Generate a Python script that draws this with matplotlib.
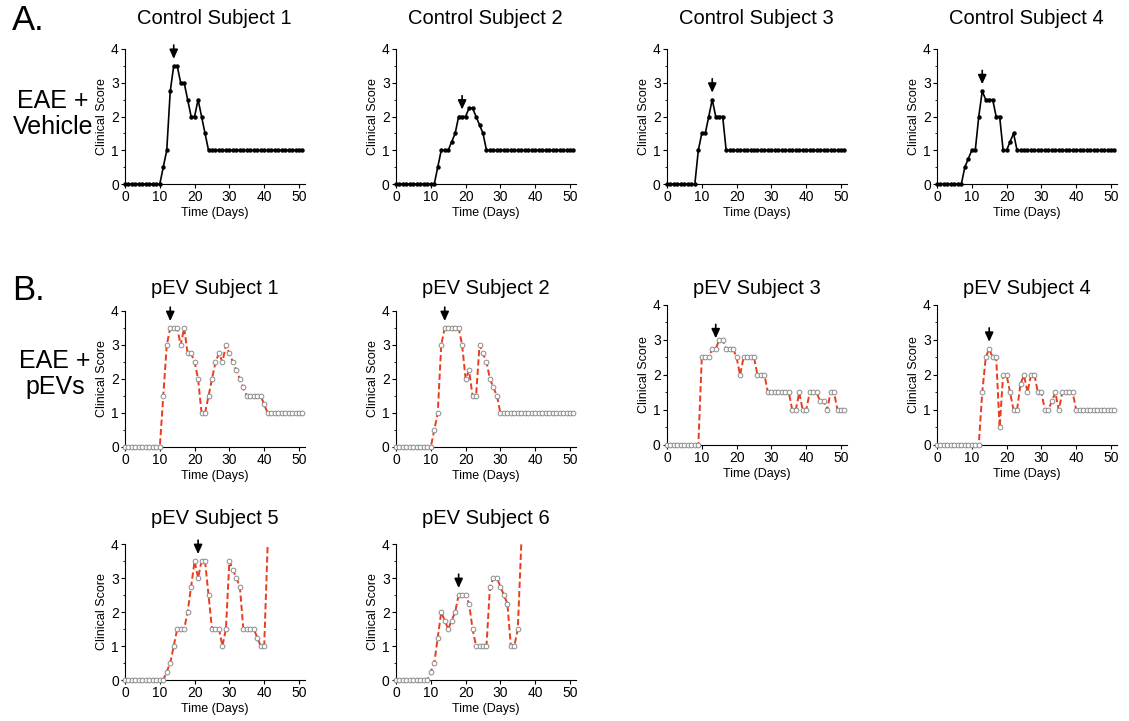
import matplotlib
matplotlib.use('Agg')
import matplotlib.pyplot as plt
from matplotlib.ticker import MultipleLocator

plt.rcParams['font.family'] = ['Liberation Sans', 'DejaVu Sans']

# Clinical scores, one value per day starting at day 0
control_1 = [0, 0, 0, 0, 0, 0, 0, 0, 0, 0, 0, 0.5, 1, 2.75, 3.5, 3.5, 3, 3, 2.5, 2, 2, 2.5, 2, 1.5,
             1, 1, 1, 1, 1, 1, 1, 1, 1, 1, 1, 1, 1, 1, 1, 1, 1, 1, 1, 1, 1, 1, 1, 1, 1, 1, 1, 1]
control_2 = [0, 0, 0, 0, 0, 0, 0, 0, 0, 0, 0, 0, 0.5, 1, 1, 1, 1.25, 1.5, 2, 2, 2, 2.25, 2.25, 2, 1.75, 1.5,
             1, 1, 1, 1, 1, 1, 1, 1, 1, 1, 1, 1, 1, 1, 1, 1, 1, 1, 1, 1, 1, 1, 1, 1, 1, 1]
control_3 = [0, 0, 0, 0, 0, 0, 0, 0, 0, 1, 1.5, 1.5, 2, 2.5, 2, 2, 2,
             1, 1, 1, 1, 1, 1, 1, 1, 1, 1, 1, 1, 1, 1, 1, 1, 1, 1, 1, 1, 1, 1, 1, 1, 1, 1, 1, 1, 1, 1, 1, 1, 1, 1, 1]
control_4 = [0, 0, 0, 0, 0, 0, 0, 0, 0.5, 0.75, 1, 1, 2, 2.75, 2.5, 2.5, 2.5, 2, 2, 1, 1, 1.25, 1.5,
             1, 1, 1, 1, 1, 1, 1, 1, 1, 1, 1, 1, 1, 1, 1, 1, 1, 1, 1, 1, 1, 1, 1, 1, 1, 1, 1, 1, 1]
pev_1 = [0, 0, 0, 0, 0, 0, 0, 0, 0, 0, 0, 1.5, 3, 3.5, 3.5, 3.5, 3, 3.5, 2.75, 2.75, 2.5, 2, 1, 1,
         1.5, 2, 2.5, 2.75, 2.5, 3, 2.75, 2.5, 2.25, 2, 1.75, 1.5, 1.5, 1.5, 1.5, 1.5, 1.25,
         1, 1, 1, 1, 1, 1, 1, 1, 1, 1, 1]
pev_2 = [0, 0, 0, 0, 0, 0, 0, 0, 0, 0, 0, 0.5, 1, 3, 3.5, 3.5, 3.5, 3.5, 3.5, 3, 2, 2.25, 1.5, 1.5,
         3, 2.75, 2.5, 2, 1.75, 1.5,
         1, 1, 1, 1, 1, 1, 1, 1, 1, 1, 1, 1, 1, 1, 1, 1, 1, 1, 1, 1, 1, 1]
pev_3 = [0, 0, 0, 0, 0, 0, 0, 0, 0, 0, 2.5, 2.5, 2.5, 2.75, 2.75, 3, 3, 2.75, 2.75, 2.75, 2.5, 2,
         2.5, 2.5, 2.5, 2.5, 2, 2, 2, 1.5, 1.5, 1.5, 1.5, 1.5, 1.5, 1.5, 1, 1, 1.5, 1, 1,
         1.5, 1.5, 1.5, 1.25, 1.25, 1, 1.5, 1.5, 1, 1, 1]
pev_4 = [0, 0, 0, 0, 0, 0, 0, 0, 0, 0, 0, 0, 0, 1.5, 2.5, 2.75, 2.5, 2.5, 0.5, 2, 2, 1.5, 1, 1,
         1.75, 2, 1.5, 2, 2, 1.5, 1.5, 1, 1, 1.25, 1.5, 1, 1.5, 1.5, 1.5, 1.5,
         1, 1, 1, 1, 1, 1, 1, 1, 1, 1, 1, 1]
pev_5 = [0, 0, 0, 0, 0, 0, 0, 0, 0, 0, 0, 0, 0.25, 0.5, 1, 1.5, 1.5, 1.5, 2, 2.75, 3.5, 3, 3.5, 3.5,
         2.5, 1.5, 1.5, 1.5, 1, 1.5, 3.5, 3.25, 3, 2.75, 1.5, 1.5, 1.5, 1.5, 1.25, 1, 1, 4]
pev_6 = [0, 0, 0, 0, 0, 0, 0, 0, 0, 0, 0.25, 0.5, 1.25, 2, 1.75, 1.5, 1.75, 2, 2.5, 2.5, 2.5, 2.25,
         1.5, 1, 1, 1, 1, 2.75, 3, 3, 2.75, 2.5, 2.25, 1, 1, 1.5, 4]

control_scores = [control_1, control_2, control_3, control_4]
pev_scores = [pev_1, pev_2, pev_3, pev_4, pev_5, pev_6]
control_titles = ['Control Subject 1', 'Control Subject 2', 'Control Subject 3', 'Control Subject 4']
pev_titles = ['pEV Subject 1', 'pEV Subject 2', 'pEV Subject 3',
              'pEV Subject 4', 'pEV Subject 5', 'pEV Subject 6']
# peak day marked by the arrow, and the score it sits above
control_arrow_day = [14, 19, 13, 13]
control_arrow_score = [3.5, 2.0, 2.5, 2.75]
pev_arrow_day = [13, 14, 14, 15, 21, 18]
pev_arrow_score = [3.5, 3.5, 2.85, 2.75, 3.5, 2.5]
# the last recorded score of subjects 5 and 6 has no marker
pev_last_marked = [True, True, True, True, False, False]

W, H = 1129, 721
fig = plt.figure(figsize=(W / 100, H / 100), dpi=100)

PX_PER_DAY = 3.48
XMAX = 51.6


def make_axes(x0, top, bottom):
    ax = fig.add_axes([x0 / W, 1 - bottom / H, XMAX * PX_PER_DAY / W, (bottom - top) / H])
    ax.set_xlim(0, XMAX)
    ax.set_ylim(0, 4)
    ax.spines['top'].set_visible(False)
    ax.spines['right'].set_visible(False)
    ax.xaxis.set_major_locator(MultipleLocator(10))
    ax.yaxis.set_major_locator(MultipleLocator(1))
    ax.yaxis.set_minor_locator(MultipleLocator(0.5))
    ax.tick_params(which='major', length=3, width=0.8, labelsize=10, pad=1.5)
    ax.tick_params(which='minor', length=1.5, width=0.6)
    ax.set_xlabel('Time (Days)', fontsize=9, labelpad=2)
    ax.set_ylabel('Clinical Score', fontsize=9, labelpad=2)
    return ax


def add_arrow(ax, day, score):
    ax.annotate('', xy=(day, score), xytext=(0, 15), textcoords='offset points',
                arrowprops=dict(arrowstyle='-|>,head_width=0.25,head_length=0.55',
                                color='k', lw=1.2, shrinkA=0, shrinkB=5, mutation_scale=10))


def add_title(ax, text, y_px):
    b = ax.get_position()
    fig.text(b.x0 + b.width / 2, 1 - y_px / H, text, ha='center', va='center', fontsize=14.5)


col_x = [125, 396, 667, 937]

# Row A: vehicle controls
for i, scores in enumerate(control_scores):
    ax = make_axes(col_x[i], 49, 184)
    days = list(range(len(scores)))
    ax.plot(days, scores, color='black', lw=1.2, marker='o', ms=2.2,
            mfc='black', mec='black', clip_on=False, zorder=3)
    add_arrow(ax, control_arrow_day[i], control_arrow_score[i])
    add_title(ax, control_titles[i], 19)

# Rows B and C: pEV treated
pev_frames = [(125, 311, 447), (396, 311, 447), (667, 305, 445), (937, 305, 445),
              (125, 544, 680), (396, 544, 680)]
pev_title_y = [288, 288, 288, 288, 519, 519]
for i, scores in enumerate(pev_scores):
    x0, top, bottom = pev_frames[i]
    ax = make_axes(x0, top, bottom)
    days = list(range(len(scores)))
    n_marked = len(scores) if pev_last_marked[i] else len(scores) - 1
    ax.plot(days, scores, color='#ec3b1d', lw=1.4, ls=(0, (3.2, 1.6)), clip_on=False, zorder=2)
    ax.plot(days[:n_marked], scores[:n_marked], ls='none', marker='o', ms=3.4,
            mfc='white', mec='#8a8a8a', mew=0.7, clip_on=False, zorder=3)
    add_arrow(ax, pev_arrow_day[i], pev_arrow_score[i])
    add_title(ax, pev_titles[i], pev_title_y[i])

fig.text(28 / W, 1 - 21 / H, 'A.', fontsize=25, ha='center', va='center')
fig.text(53 / W, 1 - 114 / H, 'EAE +\nVehicle', fontsize=18, ha='center', va='center',
         multialignment='center', linespacing=1.15)
fig.text(28 / W, 1 - 290 / H, 'B.', fontsize=25, ha='center', va='center')
fig.text(55 / W, 1 - 374 / H, 'EAE +\npEVs', fontsize=18, ha='center', va='center',
         multialignment='center', linespacing=1.15)

fig.savefig('out.png', dpi=100)
